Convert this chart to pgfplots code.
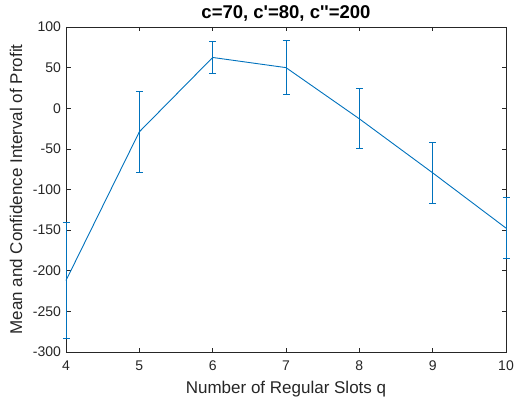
\documentclass[border=0pt]{standalone}
\usepackage{pgfplots}
\pgfplotsset{compat=1.18}
\usepackage{fontspec}
\setmainfont{Liberation Sans}
\definecolor{mblue}{rgb}{0,0.447,0.741}
\definecolor{axgray}{rgb}{0.15,0.15,0.15}
\begin{document}
\begin{tikzpicture}
\begin{axis}[
  scale only axis, width=440pt, height=325pt,
  xmin=4, xmax=10, ymin=-300, ymax=100,
  clip=false,
  xtick={4,5,...,10}, ytick={-300,-250,...,100},
  tick align=inside, major tick length=4.5pt,
  axis line style={axgray, line width=0.6pt},
  tick style={axgray, line width=0.6pt},
  every tick label/.append style={font=\fontsize{14}{16}\selectfont, text=axgray},
  xticklabel style={yshift=-5pt},
  yticklabel style={xshift=-1.5pt},
  /pgf/number format/assume math mode=true,
  /pgf/number format/1000 sep={},
  title={\bfseries c=70, c\textquotesingle=80, c\textquotesingle\textquotesingle=200},
  every axis title/.style={at={(axis description cs:0.5,1)}, anchor=center, yshift=14pt, font=\fontsize{18.5}{20}\selectfont, text=black},
  xlabel={Number of Regular Slots q},
  ylabel={Mean and Confidence Interval of Profit},
  every axis x label/.style={at={(axis description cs:0.5,0)}, anchor=center, yshift=-37pt, font=\fontsize{17}{19}\selectfont, text=axgray},
  every axis y label/.style={at={(axis description cs:-0.1136,0.5)}, rotate=90, anchor=center, font=\fontsize{17}{19}\selectfont, text=axgray},
]
\addplot[mblue, line width=0.9pt,
  error bars/.cd, y dir=both, y explicit,
  error bar style={line width=0.9pt, mblue},
  error mark options={rotate=90, mark size=3.5pt, line width=0.9pt, mblue}]
  coordinates {
  (4,-212) +- (0,71)
  (5,-29) +- (0,50)
  (6,62.5) +- (0,20)
  (7,50) +- (0,33.6)
  (8,-13) +- (0,36.8)
  (9,-79.5) +- (0,37.5)
  (10,-147.5) +- (0,37.5)
  };
\coordinate (sw) at (rel axis cs:0,0);
\coordinate (ne) at (rel axis cs:1,1);
\end{axis}
\pgfresetboundingbox
\path[use as bounding box] ([shift={(-66pt,-53pt)}]sw) rectangle ([shift={(9pt,27pt)}]ne);
\end{tikzpicture}
\end{document}
